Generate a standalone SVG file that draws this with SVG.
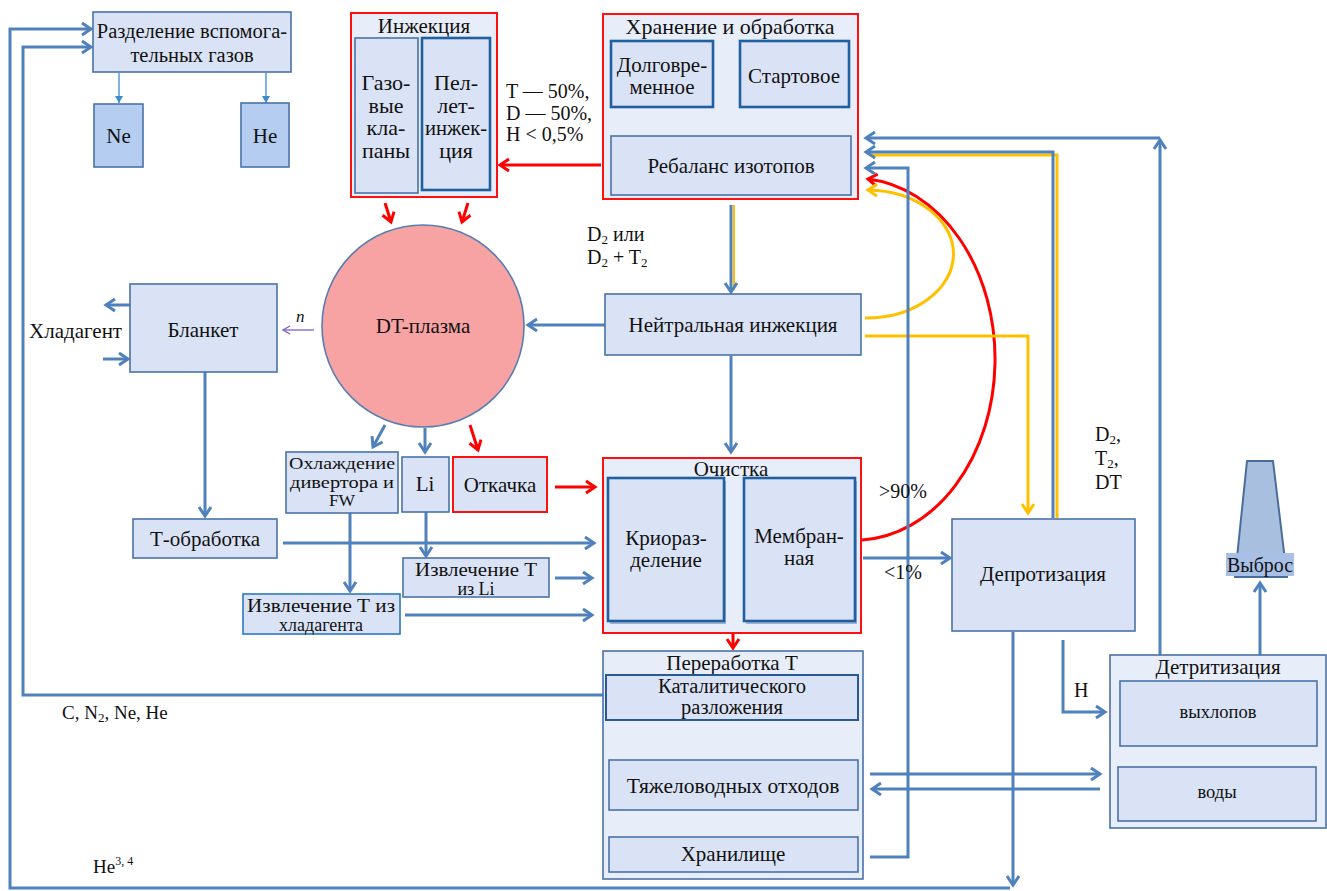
<svg xmlns="http://www.w3.org/2000/svg" width="1327" height="891" viewBox="0 0 1327 891" font-family="'Liberation Serif', 'DejaVu Serif', serif">
<defs>
<style>
text{font-family:"Liberation Serif","DejaVu Serif",serif;fill:#111;font-size:21px}
.c{text-anchor:middle}
.l{font-size:20px}
.box{fill:#dae3f5;stroke:#4a72a8;stroke-width:1.6}
.boxd{fill:#dae3f5;stroke:#2060a0;stroke-width:2.6}
.cont{fill:#e8eef9;stroke:#4a72a8;stroke-width:1.6}
.red{fill:#e8eef9;stroke:#ff1010;stroke-width:2}
.gas{fill:#b4cdf0;stroke:#4a72a8;stroke-width:1.6}
.b{fill:none;stroke:#4f81bd;stroke-width:3}
.r{fill:none;stroke:#ff0000;stroke-width:3}
.y{fill:none;stroke:#ffc000;stroke-width:3}
</style>
<marker id="ab" markerUnits="userSpaceOnUse" markerWidth="16" markerHeight="16" refX="12" refY="8" orient="auto"><path d="M3,2 L12,8 L3,14" fill="none" stroke="#4f81bd" stroke-width="3"/></marker>
<marker id="ar" markerUnits="userSpaceOnUse" markerWidth="16" markerHeight="16" refX="12" refY="8" orient="auto"><path d="M3,2 L12,8 L3,14" fill="none" stroke="#ff0000" stroke-width="3"/></marker>
<marker id="ay" markerUnits="userSpaceOnUse" markerWidth="16" markerHeight="16" refX="12" refY="8" orient="auto"><path d="M3,2 L12,8 L3,14" fill="none" stroke="#ffc000" stroke-width="3"/></marker>
<marker id="al" markerUnits="userSpaceOnUse" markerWidth="16" markerHeight="16" refX="12" refY="8" orient="auto"><path d="M3,2 L12,8 L3,14" fill="none" stroke="#8fb0dc" stroke-width="3"/></marker>
<marker id="ap" markerUnits="userSpaceOnUse" markerWidth="10" markerHeight="10" refX="9" refY="5" orient="auto"><path d="M2,1 L9,5 L2,9" fill="none" stroke="#8060c0" stroke-width="1.3"/></marker>
<marker id="at" markerUnits="userSpaceOnUse" markerWidth="8" markerHeight="8" refX="7" refY="4" orient="auto"><path d="M0,0 L7,4 L0,8 Z" fill="#3a8ad0"/></marker>
</defs>

<g id="connectors">
<path class="b" d="M1013 632 V885" marker-end="url(#ab)"/>
<path class="b" d="M1010 888 H10 V29 H91" marker-end="url(#ab)"/>
<path class="b" d="M605 695 H23 V47 H91" marker-end="url(#ab)"/>
<path d="M119 73 V103" stroke="#3a8ad0" stroke-width="1.3" fill="none" marker-end="url(#at)"/>
<path d="M266 73 V103" stroke="#3a8ad0" stroke-width="1.3" fill="none" marker-end="url(#at)"/>
<path class="r" d="M601 165 H500" marker-end="url(#ar)"/>
<path class="r" d="M385 203 L391 222" marker-end="url(#ar)"/>
<path class="r" d="M468 203 L462 222" marker-end="url(#ar)"/>
<path class="b" d="M666 136 V109" marker-end="url(#ab)"/>
<path d="M793 108 V127" fill="none" stroke="#8fb0dc" stroke-width="3" marker-end="url(#al)"/>
<path d="M734 205 V290" fill="none" stroke="#ffc000" stroke-width="2"/>
<path class="b" d="M731 205 V292" marker-end="url(#ab)"/>
<path class="b" d="M605 325 H528" marker-end="url(#ab)"/>
<path class="b" d="M731 356 V452" marker-end="url(#ab)"/>
<path d="M314 330 H283" fill="none" stroke="#8060c0" stroke-width="1.3" marker-end="url(#ap)"/>
<path class="b" d="M130 305 H106" marker-end="url(#ab)"/>
<path class="b" d="M103 359 H128" marker-end="url(#ab)"/>
<path class="b" d="M205 372 V516" marker-end="url(#ab)"/>
<path class="b" d="M283 543 H594" marker-end="url(#ab)"/>
<path class="b" d="M385 425 L373 447" marker-end="url(#ab)"/>
<path class="b" d="M425 428 V452" marker-end="url(#ab)"/>
<path class="r" d="M470 425 L478 450" marker-end="url(#ar)"/>
<path class="r" d="M555 487 H595" marker-end="url(#ar)"/>
<path class="b" d="M350 513 V591" marker-end="url(#ab)"/>
<path class="b" d="M426 512 V556" marker-end="url(#ab)"/>
<path class="b" d="M555 578 H592" marker-end="url(#ab)"/>
<path class="b" d="M405 615 H592" marker-end="url(#ab)"/>
<path class="b" d="M724 558 H742" marker-end="url(#ab)"/>
<path class="b" d="M863 558 H950" marker-end="url(#ab)"/>
<path class="r" d="M862 540 A 140 181 0 0 0 868 179" marker-end="url(#ar)"/>
<path class="y" d="M865 318 A 87 64 0 0 0 868 190" marker-end="url(#ay)"/>
<path class="y" d="M865 336 H1028 V513" marker-end="url(#ay)"/>
<path class="y" d="M1057 518 V155 H870"/>
<path class="b" d="M1053 518 V152 H866" marker-end="url(#ab)"/>
<path class="b" d="M1160 655 V140" marker-end="url(#ab)"/>
<path class="b" d="M1160 138 H866" marker-end="url(#ab)"/>
<path class="b" d="M870 857 H908 V168 H866" marker-end="url(#ab)"/>
<path class="r" d="M733 634 V648" marker-end="url(#ar)"/>
<path class="b" d="M1260 655 V583" marker-end="url(#ab)"/>
<path class="b" d="M1063 640 V712 H1105" marker-end="url(#ab)"/>
<path class="b" d="M870 774 H1100" marker-end="url(#ab)"/>
<path class="b" d="M1100 789 H872" marker-end="url(#ab)"/>
<path class="b" d="M733 728 V755" marker-end="url(#ab)"/>
<path class="b" d="M733 811 V833" marker-end="url(#ab)"/>
<path class="b" d="M1160 767 V748" marker-end="url(#ab)"/>
<path class="b" d="M1264 746 V766" marker-end="url(#ab)"/>
</g>

<g id="gas-separation">
<rect class="box" x="93" y="12" width="198" height="60"/>
<text class="c" x="192" y="38" style="font-size:20.5px">Разделение вспомога-</text>
<text class="c" x="192" y="62" style="font-size:20.5px">тельных газов</text>
</g>
<g id="ne"><rect class="gas" x="94" y="104" width="49" height="63"/><text class="c" x="118.5" y="143">Ne</text></g>
<g id="he"><rect class="gas" x="241" y="103" width="48" height="64"/><text class="c" x="265" y="143">He</text></g>

<g id="injection">
<rect class="red" x="351" y="13" width="146" height="184"/>
<text class="c" x="424" y="33">Инжекция</text>
<rect class="box" x="355" y="38" width="63" height="155"/>
<text class="c" x="386" y="90" style="font-size:22px">Газо-</text>
<text class="c" x="386" y="112.5" style="font-size:22px">вые</text>
<text class="c" x="386" y="135" style="font-size:22px">кла-</text>
<text class="c" x="386" y="157.5" style="font-size:22px">паны</text>
<rect class="boxd" x="422" y="38" width="68" height="152"/>
<text class="c" x="456" y="90" style="font-size:22px">Пел-</text>
<text class="c" x="456" y="112.5" style="font-size:22px">лет-</text>
<text class="c" x="456" y="135" style="font-size:22px" textLength="62" lengthAdjust="spacingAndGlyphs">инжек-</text>
<text class="c" x="456" y="157.5" style="font-size:22px">ция</text>
</g>
<g id="ratio-label">
<text class="l" x="506" y="98">T — 50%,</text>
<text class="l" x="506" y="120">D — 50%,</text>
<text class="l" x="506" y="141">H &lt; 0,5%</text>
</g>

<g id="storage">
<rect class="red" x="603" y="14" width="255" height="185"/>
<text class="c" x="730" y="34" style="font-size:22px">Хранение и обработка</text>
<rect class="boxd" x="611" y="41" width="102" height="66"/>
<text class="c" x="662" y="72">Долговре-</text>
<text class="c" x="662" y="94">менное</text>
<rect class="boxd" x="740" y="41" width="109" height="66"/>
<text class="c" x="794" y="83">Стартовое</text>
<rect class="box" x="611" y="136" width="240" height="59"/>
<text class="c" x="731" y="173">Ребаланс изотопов</text>
</g>

<g id="d2-label">
<text class="l" x="587" y="241">D<tspan style="font-size:13px" dy="3">2</tspan><tspan dy="-3"> или</tspan></text>
<text class="l" x="587" y="264">D<tspan style="font-size:13px" dy="3">2</tspan><tspan dy="-3"> + T</tspan><tspan style="font-size:13px" dy="3">2</tspan></text>
</g>

<g id="plasma">
<circle cx="423" cy="326" r="101" fill="#f8a3a3" stroke="#5a7db0" stroke-width="1.6"/>
<text class="c" x="423" y="333">DT-плазма</text>
</g>

<g id="neutral-injection">
<rect class="box" x="605" y="294" width="256" height="61"/>
<text class="c" x="733" y="332">Нейтральная инжекция</text>
</g>

<g id="blanket">
<rect class="box" x="130" y="284" width="147" height="88"/>
<text class="c" x="203" y="337">Бланкет</text>
</g>
<g id="coolant-label"><text x="29" y="338">Хладагент</text></g>
<g id="n-label"><text x="296" y="322" style="font-size:17px;font-style:italic">n</text></g>

<g id="t-processing">
<rect class="box" x="133" y="519" width="144" height="39"/>
<text class="c" x="205" y="546">Т-обработка</text>
</g>

<g id="divertor-cooling">
<rect class="box" x="286" y="452" width="112" height="61"/>
<text class="c" x="342" y="469" style="font-size:17.5px" textLength="106" lengthAdjust="spacingAndGlyphs">Охлаждение</text>
<text class="c" x="342" y="487.5" style="font-size:17.5px" textLength="104" lengthAdjust="spacingAndGlyphs">дивертора и</text>
<text class="c" x="342" y="506" style="font-size:17.5px">FW</text>
</g>
<g id="li">
<rect class="box" x="402" y="457" width="47" height="55"/>
<text class="c" x="425" y="491">Li</text>
</g>
<g id="pumping">
<rect class="red" x="453" y="457" width="94" height="55" style="fill:#dae3f5"/>
<text class="c" x="500" y="492">Откачка</text>
</g>

<g id="t-from-li">
<rect class="box" x="403" y="558" width="146" height="39"/>
<text class="c" x="476" y="576" style="font-size:18px" textLength="122" lengthAdjust="spacingAndGlyphs">Извлечение Т</text>
<text class="c" x="476" y="595" style="font-size:18px">из Li</text>
</g>
<g id="t-from-coolant">
<rect class="box" x="243" y="594" width="157" height="40" style="stroke:#2a7ac0"/>
<text class="c" x="321" y="612" style="font-size:18px" textLength="148" lengthAdjust="spacingAndGlyphs">Извлечение Т из</text>
<text class="c" x="321" y="631" style="font-size:18px">хладагента</text>
</g>

<g id="cleaning">
<rect class="red" x="603" y="458" width="258" height="175"/>
<text class="c" x="731" y="476">Очистка</text>
<rect x="610" y="481" width="116" height="143" fill="#9fb3d0"/>
<rect class="boxd" x="608" y="478" width="116" height="143"/>
<text class="c" x="666" y="545">Криораз-</text>
<text class="c" x="666" y="567">деление</text>
<rect x="746" y="481" width="111" height="143" fill="#9fb3d0"/>
<rect class="boxd" x="744" y="478" width="111" height="143"/>
<text class="c" x="799" y="543">Мембран-</text>
<text class="c" x="799" y="565">ная</text>
</g>
<g id="pct-labels">
<text class="l" x="879" y="498">&gt;90%</text>
<text class="l" x="884" y="579">&lt;1%</text>
</g>

<g id="deprotization">
<rect class="box" x="952" y="519" width="183" height="112"/>
<text class="c" x="1043" y="581">Депротизация</text>
</g>
<g id="dt-label">
<text class="l" x="1095" y="441">D<tspan style="font-size:13px" dy="3">2</tspan><tspan dy="-3">,</tspan></text>
<text class="l" x="1095" y="465">T<tspan style="font-size:13px" dy="3">2</tspan><tspan dy="-3">,</tspan></text>
<text class="l" x="1095" y="489">DT</text>
</g>
<g id="h-label"><text class="l" x="1074" y="697">H</text></g>

<g id="detritization">
<rect class="cont" x="1110" y="655" width="216" height="173"/>
<text class="c" x="1218" y="674">Детритизация</text>
<rect class="box" x="1120" y="681" width="197" height="65"/>
<text class="c" x="1218" y="718" style="font-size:18.5px">выхлопов</text>
<rect class="box" x="1118" y="767" width="198" height="54"/>
<text class="c" x="1217" y="798" style="font-size:18.5px">воды</text>
</g>

<g id="exhaust">
<path d="M1247 461 H1273 L1287 577 H1235 Z" fill="#a9bfdf" stroke="#4a6d9a" stroke-width="2"/>
<rect x="1226" y="553" width="68" height="23" fill="#a8c0e6"/>
<text class="c" x="1260" y="572" textLength="66" lengthAdjust="spacingAndGlyphs">Выброс</text>
</g>

<g id="t-reprocessing">
<rect class="cont" x="603" y="651" width="260" height="228"/>
<text class="c" x="732" y="670">Переработка Т</text>
<rect class="box" x="606" y="675" width="252" height="45" style="stroke:#2a5a95;stroke-width:2"/>
<text class="c" x="732" y="693" style="font-size:20.5px">Каталитического</text>
<text class="c" x="732" y="714" style="font-size:20.5px">разложения</text>
<rect class="box" x="609" y="760" width="249" height="50"/>
<text class="c" x="733" y="793" style="font-size:21.5px">Тяжеловодных отходов</text>
<rect class="box" x="609" y="837" width="249" height="35"/>
<text class="c" x="733" y="861">Хранилище</text>
</g>

<g id="bottom-labels">
<text x="62" y="719" style="font-size:19px">C, N<tspan style="font-size:13px" dy="3">2</tspan><tspan dy="-3">, Ne, He</tspan></text>
<text x="93" y="873" style="font-size:19px">He<tspan style="font-size:12px" dy="-8">3, 4</tspan></text>
</g>
</svg>
